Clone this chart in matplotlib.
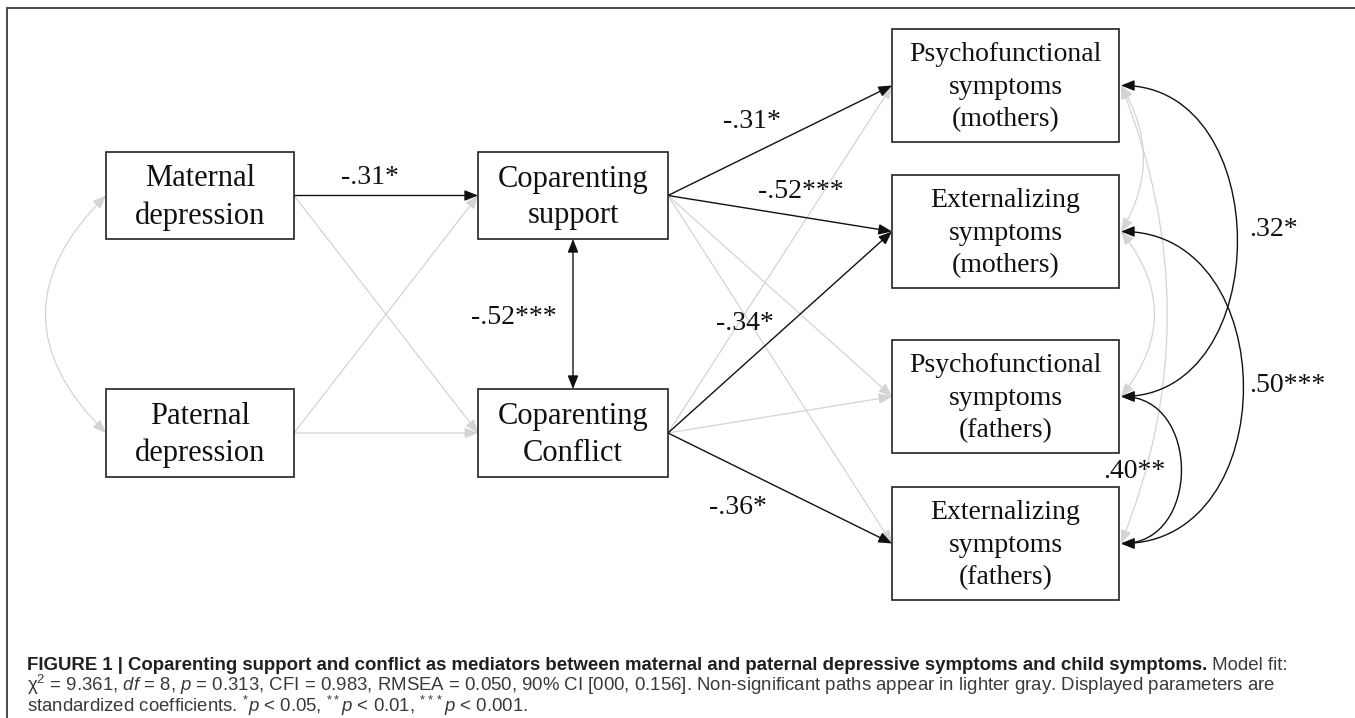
import matplotlib.pyplot as plt
from matplotlib.patches import Rectangle, FancyArrowPatch
from matplotlib.path import Path

plt.rcParams['mathtext.fontset'] = 'custom'
plt.rcParams['mathtext.rm'] = 'Liberation Sans'
plt.rcParams['mathtext.it'] = 'Liberation Sans:italic'
plt.rcParams['mathtext.bf'] = 'Liberation Sans:bold'

# --- model content ---
node_keys = ['mat', 'pat', 'sup', 'con', 'psy_m', 'ext_m', 'psy_f', 'ext_f']
node_labels = ['Maternal\ndepression', 'Paternal\ndepression',
               'Coparenting\nsupport', 'Coparenting\nConflict',
               'Psychofunctional\nsymptoms\n(mothers)', 'Externalizing\nsymptoms\n(mothers)',
               'Psychofunctional\nsymptoms\n(fathers)', 'Externalizing\nsymptoms\n(fathers)']

# regression paths (None = non-significant, drawn in light gray)
path_src = ['mat', 'mat', 'pat', 'pat', 'sup', 'sup', 'sup', 'sup', 'con', 'con', 'con', 'con']
path_dst = ['sup', 'con', 'sup', 'con', 'psy_m', 'ext_m', 'psy_f', 'ext_f', 'psy_m', 'ext_m', 'psy_f', 'ext_f']
path_coef = ['-.31*', None, None, None, '-.31*', '-.52***', None, None, None, '-.34*', None, '-.36*']

# covariances
cov_a = ['mat', 'sup', 'psy_m', 'psy_m', 'psy_m', 'ext_m', 'ext_m', 'psy_f']
cov_b = ['pat', 'con', 'ext_m', 'psy_f', 'ext_f', 'psy_f', 'ext_f', 'ext_f']
cov_coef = [None, '-.52***', None, '.32*', None, None, '.50***', '.40**']

caption_bold = ('FIGURE 1 | Coparenting support and conflict as mediators between maternal and '
                'paternal depressive symptoms and child symptoms.')
caption_rest = ' Model fit:'
caption_2 = (r'χ$^{2}$ = 9.361, $\mathit{df}$ = 8, $\mathit{p}$ = 0.313, CFI = 0.983, RMSEA = 0.050, '
             r'90% CI [000, 0.156]. Non-significant paths appear in lighter gray. Displayed parameters are')
caption_3 = (r'standardized coefficients. $^{*}\mathit{p}$ < 0.05, $^{**}\mathit{p}$ < 0.01, '
             r'$^{***}\mathit{p}$ < 0.001.')

# --- layout (pixel coordinates, y downwards) ---
boxes = {'mat': (106, 152, 294, 239), 'pat': (106, 389, 294, 477),
         'sup': (478, 152, 668, 239), 'con': (478, 389, 668, 477),
         'psy_m': (892, 29, 1119, 142), 'ext_m': (892, 175, 1119, 288),
         'psy_f': (892, 340, 1119, 453), 'ext_f': (892, 487, 1119, 600)}
right_col = ['psy_m', 'ext_m', 'psy_f', 'ext_f']
path_lab_pos = {0: (370, 177), 4: (752, 122), 5: (801, 192), 9: (745, 323), 11: (738, 507)}
cov_lab_pos = {1: (514, 318, 'center'), 3: (1249, 229, 'left'),
               6: (1249, 385, 'left'), 7: (1103, 472, 'left')}
cov_bulge = {0: 60, 2: 22, 3: 116, 4: 46, 5: 33, 6: 122, 7: 60}

BLACK = '#111111'
GRAY = '#d4d4d4'
serif = 'Liberation Serif'

fig = plt.figure(figsize=(13.55, 7.18), dpi=100)
ax = fig.add_axes([0, 0, 1, 1])
ax.set_xlim(0, 1355)
ax.set_ylim(718, 0)
ax.axis('off')

# outer frame
ax.plot([7, 7, 1355], [718, 8, 8], color='#4a4a4a', lw=1.4, solid_joinstyle='miter')


def mid(k):
    x0, y0, x1, y1 = boxes[k]
    return (x0 + x1) / 2, (y0 + y1) / 2


def add_arrow(p0=None, p1=None, sig=False, both=False, path=None):
    style = '<|-|>' if both else '-|>'
    kw = dict(arrowstyle=f'{style},head_length=0.8,head_width=0.32', mutation_scale=10,
              color=BLACK if sig else GRAY, lw=1.0 if sig else 0.9,
              zorder=3 if sig else 2)
    if path is not None:
        a = FancyArrowPatch(path=path, **kw)
    else:
        a = FancyArrowPatch(p0, p1, shrinkA=0, shrinkB=0, **kw)
    ax.add_patch(a)


# regression paths
for i, (s, d, c) in enumerate(zip(path_src, path_dst, path_coef)):
    p0 = (boxes[s][2], mid(s)[1])
    p1 = (boxes[d][0], mid(d)[1])
    add_arrow(p0, p1, sig=c is not None)
    if c is not None:
        ax.text(*path_lab_pos[i], c, fontsize=20, family=serif, ha='center', va='center', color=BLACK)

# covariances
for i, (a, b, c) in enumerate(zip(cov_a, cov_b, cov_coef)):
    sig = c is not None
    if a == 'sup':
        add_arrow((mid(a)[0], boxes[a][3]), (mid(b)[0], boxes[b][1]), sig=sig, both=True)
    elif a in right_col:
        x = boxes[a][2] + 2
        ya, yb = mid(a)[1], mid(b)[1]
        h = cov_bulge[i]
        if sig:
            k = h / 0.75
            p = Path([(x, ya), (x + k, ya), (x + k, yb), (x, yb)],
                     [Path.MOVETO, Path.CURVE4, Path.CURVE4, Path.CURVE4])
        else:
            p = Path([(x, ya), (x + 2 * h, (ya + yb) / 2), (x, yb)],
                     [Path.MOVETO, Path.CURVE3, Path.CURVE3])
        add_arrow(path=p, sig=sig, both=True)
    else:
        x = boxes[a][0]
        ya, yb = mid(a)[1], mid(b)[1]
        h = cov_bulge[i]
        p = Path([(x, ya), (x - 2 * h, (ya + yb) / 2), (x, yb)],
                 [Path.MOVETO, Path.CURVE3, Path.CURVE3])
        add_arrow(path=p, sig=sig, both=True)
    if sig:
        lx, ly, ha = cov_lab_pos[i]
        ax.text(lx, ly, c, fontsize=20, family=serif, ha=ha, va='center', color=BLACK)

# boxes
for k, lab in zip(node_keys, node_labels):
    x0, y0, x1, y1 = boxes[k]
    ax.add_patch(Rectangle((x0, y0), x1 - x0, y1 - y0, facecolor='white',
                           edgecolor='#222222', lw=1.2, zorder=4))
    right = k in right_col
    ax.text((x0 + x1) / 2, (y0 + y1) / 2 + 2, lab, fontsize=20 if right else 22, family=serif,
            ha='center', va='center', linespacing=1.4 if right else 1.36,
            color=BLACK, zorder=5)

# caption
cap_kw = dict(fontsize=13.4, family='Liberation Sans', va='baseline')
t1 = ax.text(27, 670, caption_bold, fontweight='bold', color='#231f20', **cap_kw)
fig.canvas.draw()
bb = t1.get_window_extent(fig.canvas.get_renderer())
xend = ax.transData.inverted().transform((bb.x1, bb.y0))[0]
ax.text(xend, 670, caption_rest, color='#3a3a3a', **cap_kw)
ax.text(27, 691, caption_2, color='#3a3a3a', **cap_kw)
ax.text(27, 712.5, caption_3, color='#3a3a3a', **cap_kw)

fig.savefig('out.png', dpi=100)
